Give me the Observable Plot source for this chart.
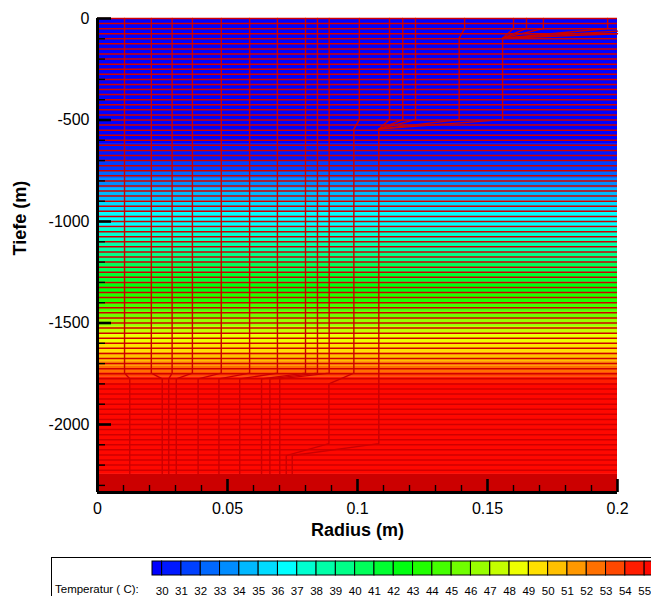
<!DOCTYPE html>
<html>
<head>
<meta charset="utf-8">
<script src="https://cdn.jsdelivr.net/npm/d3@7"></script>
<script src="https://cdn.jsdelivr.net/npm/@observablehq/plot@0.6"></script>
<style>
  html, body { margin: 0; padding: 0; background: #fff; overflow: hidden; width: 651px; height: 596px; }
  body { position: relative; font-family: "Liberation Sans", Arial, sans-serif; }
  #main { position: absolute; left: 0; top: 0; width: 651px; }
  #legendBox { position: absolute; left: 51px; top: 557px; width: 720px; height: 60px; border: 1px solid #000; box-sizing: border-box; }
  #legend { position: absolute; left: 0; top: 550px; width: 700px; }
  #legend svg { max-width: none !important; }
  #legendLabel { position: absolute; left: 55px; top: 583px; font-size: 11.5px; color: #000; white-space: nowrap; }
</style>
</head>
<body>
<div id="main"></div>
<div id="legendBox"></div>
<div id="legend"></div>
<div id="legendLabel">Temperatur ( C):</div>
<script>
// ---------- data ----------
// temperature levels (isotherms, °C) and their depths (m)
const levels = [30,31,32,33,34,35,36,37,38,39,40,41,42,43,44,45,46,47,48,49,50,51,52,53,54,55,56];
const isothermDepths = [-616,-700,-749,-788,-837,-897,-956,-1034,-1094,-1153,-1202,-1251,-1300,-1350,-1399,-1443,-1478,-1517,-1557,-1601,-1645,-1690,-1714,-1744,-1768,-1798,-2246];
const levelColors = ["#0000ff","#0018ff","#0040ff","#0068ff","#008cff","#00b8ff","#00dcff","#00ffff","#00ffd0","#00ffa8","#00ff88","#00ff5a","#00ff30","#00ff10","#20ff00","#44ff00","#70ff00","#98ff00","#c4ff00","#eeff00","#ffe000","#ffc000","#ff9800","#ff7000","#ff4800","#ff1c00","#ff0800","#cc0000"];

// mesh rows (m)
const meshDepths = [0,-25,-50,-75,-100,-125,-150,-175,-200,-225,-250,-275,-300,-325,-350,-375,-400,-425,-450,-475,-500,-525,-550,-575,-600,-625,-650,-675,-700,-725,-750,-775,-800,-825,-850,-875,-900,-925,-950,-975,-1000,-1025,-1050,-1075,-1100,-1125,-1150,-1175,-1200,-1225,-1250,-1275,-1300,-1325,-1350,-1375,-1400,-1425,-1450,-1475,-1500,-1525,-1550,-1575,-1600,-1625,-1650,-1675,-1700,-1725,-1750,-1775,-1800,-1825,-1850,-1875,-1900,-1925,-1950,-1975,-2000,-2025,-2050,-2075,-2100,-2125,-2150,-2175,-2200,-2225];

// mesh columns / casing lines: [radius (m), depth (m)]
const casingLines = [
  [[0.0104,0],[0.0104,-1747],[0.0124,-1775],[0.0124,-2246]],
  [[0.0207,0],[0.0207,-1747],[0.0249,-1775],[0.0249,-2246]],
  [[0.0287,0],[0.0287,-1747],[0.0274,-1775],[0.0274,-2246]],
  [[0.0365,0],[0.0365,-1747],[0.0303,-1775],[0.0303,-2246]],
  [[0.0476,0],[0.0476,-1747],[0.0387,-1775],[0.0387,-2246]],
  [[0.0585,0],[0.0585,-1747],[0.0467,-1775],[0.0467,-2246]],
  [[0.0692,0],[0.0692,-1747],[0.0547,-1775],[0.0547,-2246]],
  [[0.0800,0],[0.0800,-1747],[0.0631,-1775],[0.0631,-2246]],
  [[0.0846,0],[0.0846,-1747],[0.0663,-1775],[0.0663,-2246]],
  [[0.0891,0],[0.0891,-1747],[0.0701,-1775],[0.0701,-2246]],
  [[0.1007,0],[0.1007,-498],[0.0986,-545],[0.0986,-1747],[0.0890,-1800],[0.0890,-2094],[0.0726,-2153],[0.0726,-2246]],
  [[0.1123,0],[0.1123,-498],[0.1082,-545],[0.1082,-2094],[0.0749,-2153],[0.0749,-2246]],
  [[0.1174,0],[0.1174,-498],[0.1082,-545]],
  [[0.1223,0],[0.1223,-498],[0.1082,-545]],
  [[0.1412,0],[0.1412,-49],[0.1391,-97],[0.1391,-498],[0.1082,-545]],
  [[0.1600,0],[0.1600,-49],[0.1558,-97],[0.1558,-498],[0.1082,-545]],
  [[0.1650,0],[0.1650,-49],[0.1558,-97]],
  [[0.1715,0],[0.1715,-49],[0.1558,-97]],
  [[0.1962,0],[0.1962,-49],[0.1558,-97]],
  [[0.2000,-62],[0.1558,-97]],
  [[0.2000,-75],[0.1558,-97]]
];

// axis ticks
const xMajor = [0, 0.05, 0.1, 0.15, 0.2];
const xMinor = [0.01,0.02,0.03,0.04,0.06,0.07,0.08,0.09,0.11,0.12,0.13,0.14,0.16,0.17,0.18,0.19];
const yMajor = [0, -500, -1000, -1500, -2000];
const yMinor = [-100,-200,-300,-400,-600,-700,-800,-900,-1100,-1200,-1300,-1400,-1600,-1700,-1800,-1900,-2100,-2200,-2300];
const xDomain = [0, 0.2];
const yDomain = [-2335, 0];

// ---------- derived tables ----------
const bands = levelColors.map((c, i) => ({
  top: i === 0 ? 0 : isothermDepths[i - 1],
  bottom: i === isothermDepths.length ? yDomain[0] : isothermDepths[i],
  t: i === 0 ? levels[0] - 0.5 : levels[i - 1] + 0.5
}));
const linePoints = casingLines.flatMap((pts, id) => pts.map(([r, d]) => ({id, r, d})));

const colorScale = {type: "threshold", domain: levels, range: levelColors};

const W = 651, H = 550, mL = 97, mR = 34, mT = 18, mB = 58;
const frameW = W - mL - mR, frameH = H - mT - mB;
const font = "'Liberation Sans', Arial, sans-serif";

const main = Plot.plot({
  width: W, height: H,
  marginLeft: mL, marginRight: mR, marginTop: mT, marginBottom: mB,
  style: {fontFamily: font, background: "transparent", overflow: "visible"},
  x: {domain: xDomain},
  y: {domain: yDomain},
  color: colorScale,
  marks: [
    Plot.rect(bands, {x1: xDomain[0], x2: xDomain[1], y1: "top", y2: "bottom", fill: "t"}),
    Plot.ruleY(meshDepths, {stroke: "#d00000", strokeWidth: 1.5}),
    Plot.line(linePoints, {x: "r", y: "d", z: "id", stroke: "#cc0000", strokeWidth: 1.4, curve: "linear"}),
    Plot.tickY(yMinor, {y: d => d, stroke: "#000", strokeWidth: 1.4, insetRight: frameW - 8}),
    Plot.tickY(yMajor, {y: d => d, stroke: "#000", strokeWidth: 2.6, insetRight: frameW - 14}),
    Plot.tickX(xMinor, {x: d => d, stroke: "#000", strokeWidth: 1.4, insetTop: frameH - 7}),
    Plot.tickX(xMajor, {x: d => d, stroke: "#000", strokeWidth: 2.6, insetTop: frameH - 13}),
    Plot.ruleX([xDomain[0]], {stroke: "#000", strokeWidth: 3}),
    Plot.ruleY([yDomain[0]], {stroke: "#000", strokeWidth: 3}),
    Plot.axisX({ticks: xMajor, tickSize: 0, tickPadding: 10, fontSize: 16, tickFormat: d => String(d), label: null}),
    Plot.axisY({ticks: yMajor, tickSize: 0, tickPadding: 8, fontSize: 16, tickFormat: d => String(d), label: null}),
    Plot.text(["Radius (m)"], {frameAnchor: "bottom", text: d => d, dy: 43, fontSize: 18, fontWeight: "bold", fill: "#000"}),
    Plot.text(["Tiefe (m)"], {frameAnchor: "left", text: d => d, dx: -77, rotate: -90, fontSize: 18, fontWeight: "bold", fill: "#000"})
  ]
});
document.getElementById("main").appendChild(main);

// ---------- legend ----------
const legendCells = levelColors.map((c, i) => ({
  x1: i === 0 ? 29.5 : levels[i - 1],
  x2: i === levels.length ? 57 : levels[i],
  t: i === 0 ? levels[0] - 0.5 : levels[i - 1] + 0.5
}));
const step = 19.3, lW = 700, lL = 152;
const legend = Plot.plot({
  width: lW, height: 46,
  marginLeft: lL, marginRight: lW - lL - (57 - 29.5) * step, marginTop: 11, marginBottom: 21,
  style: {fontFamily: font, background: "transparent", overflow: "visible", maxWidth: "none"},
  x: {domain: [29.5, 57]},
  color: colorScale,
  marks: [
    Plot.rect(legendCells, {x1: "x1", x2: "x2", fill: "t", stroke: "#000", strokeWidth: 1}),
    Plot.axisX({ticks: levels, tickSize: 0, tickPadding: 11, fontSize: 11.5, tickFormat: d => String(d), label: null})
  ]
});
document.getElementById("legend").appendChild(legend);
</script>
</body>
</html>
